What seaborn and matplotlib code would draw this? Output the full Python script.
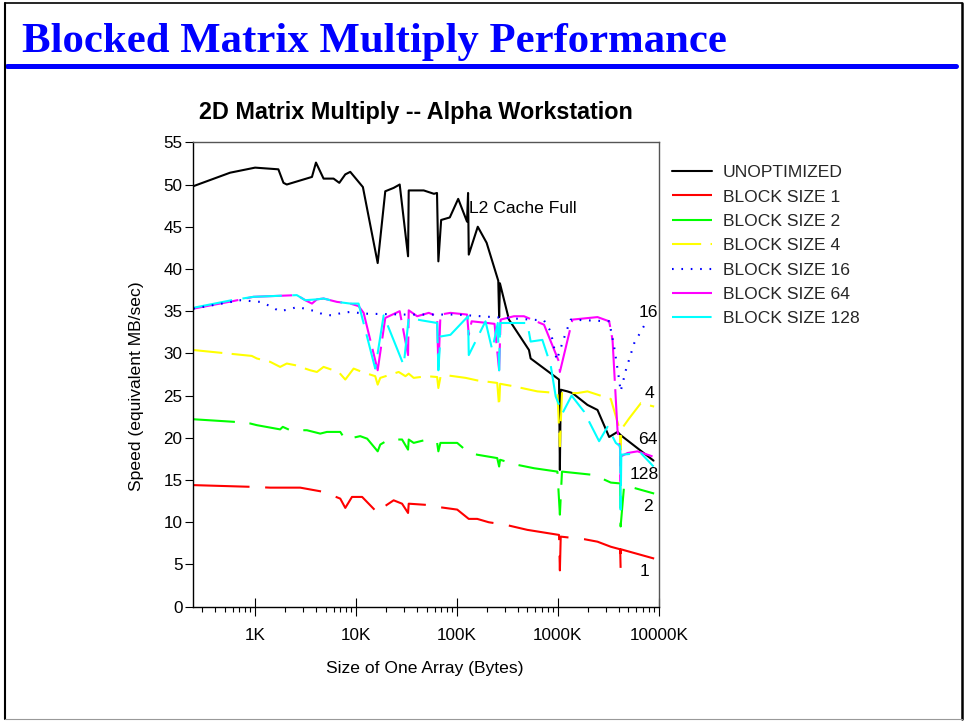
import numpy as np
import pandas as pd
import seaborn as sns
import matplotlib.pyplot as plt
from matplotlib.lines import Line2D
from matplotlib.ticker import FixedLocator, LogLocator, NullFormatter

# size of one array in KB (x) and speed in MB/sec (y)
unopt_x = [0.244, 0.565, 1.0, 1.70, 1.91, 2.06, 3.66, 4.01, 4.77, 5.99, 6.83, 7.83, 8.77, 11.7,
           16.4, 19.5, 23.6, 27.1, 32.8, 33.3, 46.9, 59.2, 63.5, 65.5, 69.8, 85.0, 103, 126, 129,
           131.1, 161, 197, 257, 262.1, 267, 328, 518, 538, 1028, 1048.6, 1069, 1245, 1397, 1967,
           2474, 3228, 3906, 4216, 8890]
unopt_y = [49.8, 51.4, 52.0, 51.8, 50.2, 50.0, 50.9, 52.6, 50.7, 50.7, 50.2, 51.2, 51.5, 49.7,
           40.7, 49.2, 49.6, 50.0, 41.5, 49.3, 49.3, 48.9, 49.0, 40.9, 45.8, 46.1, 48.3, 45.6, 49.0,
           41.7, 45.0, 43.1, 38.6, 34.3, 38.3, 34.0, 30.4, 29.4, 26.9, 16.2, 25.7, 25.5, 25.3, 23.9,
           23.3, 20.1, 20.7, 20.3, 17.3]

bs1_x = [0.244, 0.892, 1.41, 2.80, 4.77, 6.98, 7.83, 9.12, 11.5, 16.4, 17.2, 23.6, 28.6, 32.8,
         33.3, 59.0, 66.1, 100.7, 131, 159, 207, 304, 499, 1028, 1048.6, 1069, 1820, 2474, 3352,
         4150, 4194.3, 4216, 9015]
bs1_y = [14.4, 14.2, 14.1, 14.1, 13.6, 12.8, 11.7, 13.0, 13.0, 11.1, 11.5, 12.6, 12.2, 11.1,
         12.2, 12.0, 11.8, 11.5, 10.4, 10.4, 10.0, 9.7, 9.1, 8.5, 4.3, 8.3, 8.0, 7.7, 7.1,
         6.8, 4.5, 6.8, 5.7]

bs2_x = [0.244, 0.609, 0.892, 1.04, 1.77, 1.88, 2.23, 3.26, 4.42, 5.15, 6.98, 7.83, 11.0, 12.9,
         16.4, 17.4, 21.1, 28.6, 32.8, 33.3, 37.3, 50.7, 63.7, 65.5, 68.7, 100.7, 126, 159, 251,
         262.1, 268, 397, 581, 991, 1048.6, 1100, 2288, 3352, 4150, 4194.3, 4545, 9015]
bs2_y = [22.2, 21.9, 21.7, 21.5, 21.0, 21.3, 20.9, 20.9, 20.5, 20.7, 20.7, 19.8, 20.2, 19.9,
         18.4, 19.2, 19.8, 19.8, 18.6, 19.8, 19.4, 19.8, 19.4, 18.4, 19.4, 19.4, 18.4, 18.0, 17.6,
         16.6, 17.4, 16.8, 16.4, 16.0, 10.9, 16.0, 15.6, 14.7, 14.6, 9.5, 14.4, 13.4]

bs4_x = [0.244, 0.927, 1.04, 1.41, 1.77, 2.06, 2.50, 3.52, 4.10, 4.77, 5.34, 6.72, 7.83, 9.47,
         11.5, 15.5, 16.4, 17.4, 26.5, 30.9, 33.3, 37.3, 50.7, 63.7, 65.5, 68.7, 80.1, 122, 159,
         251, 262.1, 268, 367, 627, 991, 1048.6, 1100, 1566, 1967, 3352, 4100, 4194.3, 4260, 5094,
         6650, 9015]
bs4_y = [30.4, 29.7, 29.4, 29.0, 28.4, 28.8, 28.6, 28.0, 27.8, 28.4, 28.2, 27.8, 26.9, 28.2,
         27.8, 27.3, 26.3, 27.1, 27.8, 27.3, 27.6, 27.1, 27.3, 27.2, 25.9, 27.2, 27.4, 27.1, 26.8,
         26.5, 23.7, 26.4, 26.1, 25.5, 25.3, 19.0, 25.3, 25.3, 25.5, 24.6, 21.0, 18.6, 21.0, 22.3,
         24.1, 23.7]

bs16_x = [0.244, 0.721, 1.12, 1.41, 1.74, 2.14, 2.63, 3.94, 4.77, 5.78, 7.26, 8.63, 12.9, 30,
          100, 300, 730, 850, 975, 1197, 1343, 3228, 3616, 4054, 4194.3, 4721, 5714, 7762]
bs16_y = [35.3, 36.3, 36.1, 35.6, 35.0, 35.2, 35.5, 35.0, 34.6, 34.5, 34.8, 34.9, 34.7, 34.6,
          34.6, 34.2, 33.9, 32.6, 29.2, 32.4, 34.0, 33.8, 30.8, 26.9, 25.5, 28.0, 31.2, 34.0]

bs64_x = [0.244, 0.609, 0.962, 2.59, 3.14, 3.66, 4.10, 4.77, 6.47, 8.77, 10.6, 11.9, 16.4, 19.5,
          27.1, 32.8, 33.3, 40.4, 52.6, 63.7, 65.5, 68.7, 86.3, 126, 131.1, 140, 200, 236, 262.1,
          271, 367, 462, 730, 1028, 1048.6, 1397, 2474, 3228, 3487, 3906, 4150, 4194.3, 4216, 4907,
          6170, 8690]
bs64_y = [35.3, 36.2, 36.7, 36.9, 36.3, 35.9, 36.4, 36.5, 36.1, 35.9, 35.6, 34.8, 28.0, 34.2,
          35.0, 29.8, 35.1, 34.4, 34.8, 34.4, 28.0, 34.6, 34.8, 34.6, 32.2, 33.8, 33.6, 33.5, 28.0,
          34.0, 34.4, 34.4, 33.4, 29.0, 27.8, 34.0, 34.3, 33.8, 31.6, 20.9, 18.6, 14.8, 17.8, 18.2,
          18.4, 17.8]

bs128_x = [0.244, 0.587, 0.962, 2.59, 3.14, 4.10, 4.77, 6.47, 8.77, 10.6, 15.5, 18.8, 29.7, 33.3,
           45.2, 63.7, 65.5, 68.7, 86.3, 129, 131.1, 192, 224, 254, 262.1, 268, 499, 538, 703, 850,
           953, 1111, 1370, 1820, 2566, 3110, 3758, 4150, 4194.3, 4260, 6650, 8890]
bs128_y = [35.4, 36.3, 36.7, 36.9, 36.3, 36.4, 36.5, 36.1, 35.9, 35.9, 28.2, 34.5, 28.6, 34.2,
           33.9, 33.6, 28.0, 32.0, 32.2, 34.4, 29.8, 33.8, 30.4, 33.6, 28.0, 33.6, 33.6, 31.4, 31.6,
           28.6, 24.9, 22.9, 25.0, 23.1, 19.6, 21.3, 19.4, 19.0, 11.5, 18.0, 18.2, 16.6]

series_names = ['UNOPTIMIZED', 'BLOCK SIZE 1', 'BLOCK SIZE 2', 'BLOCK SIZE 4',
                'BLOCK SIZE 16', 'BLOCK SIZE 64', 'BLOCK SIZE 128']
xticks_kb = [1, 10, 100, 1000, 10000]
xtick_labels = ['1K', '10K', '100K', '1000K', '10000K']

# label next to the right end of each curve: (text, x in KB, speed)
end_labels = [('16', 7900, 34.9), ('4', 8180, 25.3), ('64', 7760, 19.8),
              ('128', 7180, 15.6), ('2', 7760, 11.9), ('1', 7300, 4.2)]

sns.set_theme(style='white')
plt.rcParams['font.family'] = ['Liberation Sans', 'DejaVu Sans']

fig = plt.figure(figsize=(9.64, 7.21), dpi=100)
W, H = 964, 721
ax = fig.add_axes([193.3 / W, 1 - 606.7 / H, 465.4 / W, 464.4 / H])
ax.set_xscale('log')

# (x, y, color, dash pattern in linewidths) -- later entries drawn on top
styles = {
    'UNOPTIMIZED': (unopt_x, unopt_y, '#000000', None),
    'BLOCK SIZE 1': (bs1_x, bs1_y, '#ff0000', (27, 7.5)),
    'BLOCK SIZE 2': (bs2_x, bs2_y, '#00ff00', (20, 7)),
    'BLOCK SIZE 4': (bs4_x, bs4_y, '#ffff00', (14, 4.5)),
    'BLOCK SIZE 64': (bs64_x, bs64_y, '#ff00ff', (22, 4)),
    'BLOCK SIZE 128': (bs128_x, bs128_y, '#00ffff', (19, 5)),
    'BLOCK SIZE 16': (bs16_x, bs16_y, '#0000ff', (0.8, 3.7)),
}

handles = {}
for name, (xs, ys, col, dash) in styles.items():
    df = pd.DataFrame({'size': xs, 'speed': ys})
    ls = '-' if dash is None else (0, dash)
    sns.lineplot(data=df, x='size', y='speed', ax=ax, color=col, lw=1.5,
                 linestyle=ls, estimator=None, sort=False, legend=False)
    handles[name] = Line2D([], [], color=col, lw=1.5, linestyle=ls)

ax.set_xlim(0.244, 10000)
ax.set_ylim(0, 55)
ax.set_yticks(np.arange(0, 56, 5))
ax.xaxis.set_major_locator(FixedLocator(xticks_kb))
ax.set_xticklabels(xtick_labels)
ax.xaxis.set_minor_locator(LogLocator(base=10, subs=np.arange(2, 10)))
ax.xaxis.set_minor_formatter(NullFormatter())

ax.tick_params(axis='x', which='major', direction='inout', length=12.5, width=0.8,
               pad=9, labelsize=12.3, colors='black', bottom=True)
ax.tick_params(axis='x', which='minor', direction='out', length=3.6, width=0.8,
               colors='black', bottom=True)
ax.tick_params(axis='y', which='major', direction='out', length=5.8, width=0.8,
               pad=2, labelsize=12.3, colors='black', left=True)

for side in ['left', 'bottom']:
    ax.spines[side].set_color('black')
    ax.spines[side].set_linewidth(1.0)
for side in ['top', 'right']:
    ax.spines[side].set_color('#555555')
    ax.spines[side].set_linewidth(1.0)
ax.grid(False)

ax.set_xlabel('Size of One Array (Bytes)', fontsize=12.6, color='black')
ax.set_ylabel('Speed (equivalent MB/sec)', fontsize=12.6, color='black')
ax.xaxis.set_label_coords(0.498, -0.117)
ax.yaxis.set_label_coords(-0.106, 0.475)

for txt, lx, ly in end_labels:
    ax.text(lx, ly, txt, fontsize=12.6, ha='center', va='center', color='black')
ax.text(131, 46.6, 'L2 Cache Full', fontsize=12.6, ha='left', va='baseline', color='black')

ax.legend([handles[n] for n in series_names], series_names, loc='upper left',
          bbox_to_anchor=(671.7 / W, 1 - 165 / H), bbox_transform=fig.transFigure,
          frameon=False, fontsize=12.6, handlelength=2.29, handletextpad=0.63,
          borderpad=0, borderaxespad=0, labelspacing=0.52)

fig.text(416 / W, 1 - 112 / H, '2D Matrix Multiply -- Alpha Workstation', ha='center',
         va='center', fontsize=16.8, fontweight='bold', color='black')

# slide title, rule and frame
fig.text(22 / W, 1 - 52 / H, 'Blocked Matrix Multiply Performance', ha='left', va='baseline',
         fontsize=30.8, fontweight='bold', color='#0000ff', family='Liberation Serif')
fig.add_artist(Line2D([7 / W, 956 / W], [1 - 65.5 / H] * 2, color='#0000ff', lw=3.6,
                      solid_capstyle='round', transform=fig.transFigure))
fig.add_artist(Line2D([5 / W, 5 / W], [1 - 3 / H, 1 - 719 / H], color='black', lw=1.5,
                      transform=fig.transFigure))
fig.add_artist(Line2D([5 / W, 962 / W], [1 - 3 / H] * 2, color='black', lw=1.2,
                      transform=fig.transFigure))
fig.add_artist(Line2D([961.5 / W, 961.5 / W], [1 - 3 / H, 1 - 719 / H], color='black', lw=1.8,
                      transform=fig.transFigure))
fig.add_artist(Line2D([5 / W, 962 / W], [1 - 719 / H] * 2, color='#999999', lw=0.8,
                      transform=fig.transFigure))

fig.savefig('out.png', dpi=100, facecolor='white')
